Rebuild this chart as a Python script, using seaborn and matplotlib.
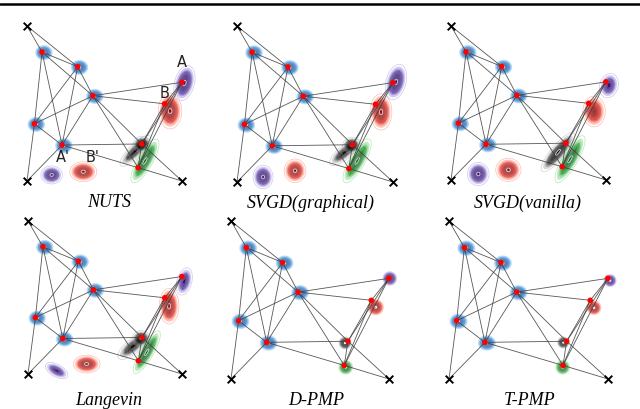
import numpy as np
import pandas as pd
import matplotlib
matplotlib.use("Agg")
import matplotlib.pyplot as plt
import seaborn as sns
from matplotlib.colors import LinearSegmentedColormap, to_rgb

# anchors (x markers) and sensor nodes, unit square coordinates
anchor_x = [0.0, 0.0, 1.0]
anchor_y = [1.0, 0.0, 0.0]
node_x = [0.097, 0.327, 0.425, 0.048, 0.226, 0.999, 0.888, 0.740, 0.717]
node_y = [0.832, 0.737, 0.550, 0.369, 0.232, 0.637, 0.498, 0.239, 0.086]
# points: a0 a1 a2, then n1..n9 as 3..11
edges = [(0, 3), (0, 4), (3, 4), (3, 5), (3, 6), (3, 7), (4, 5), (4, 6), (4, 7),
         (5, 6), (5, 7), (5, 8), (5, 9), (5, 10), (5, 11), (6, 7), (6, 1), (7, 1),
         (7, 10), (7, 11), (8, 9), (8, 10), (8, 11), (9, 10), (9, 11), (10, 11),
         (10, 2), (11, 2)]

titles = ["NUTS", "SVGD(graphical)", "SVGD(vanilla)", "Langevin", "D-PMP", "T-PMP"]

# posterior blobs: x, y, sx, sy, angle, peak, colour
nuts_blobs = [
    (1.016, 0.632, 0.022, 0.040, -15, 1.0, "purple"),
    (0.923, 0.452, 0.026, 0.040, 0, 1.0, "red"),
    (0.700, 0.195, 0.050, 0.016, 45, 0.55, "black"),
    (0.742, 0.236, 0.020, 0.018, 0, 1.0, "black"),
    (0.761, 0.129, 0.055, 0.017, 60, 1.0, "green"),
    (0.159, 0.039, 0.024, 0.020, 0, 1.0, "purple"),
    (0.363, 0.060, 0.030, 0.022, 0, 1.0, "red"),
]
svgd_graph_blobs = [
    (1.019, 0.641, 0.022, 0.040, -15, 1.0, "purple"),
    (0.923, 0.449, 0.024, 0.040, 0, 1.0, "red"),
    (0.690, 0.190, 0.045, 0.016, 40, 0.55, "black"),
    (0.735, 0.235, 0.020, 0.018, 0, 1.0, "black"),
    (0.770, 0.135, 0.055, 0.017, 60, 1.0, "green"),
    (0.167, 0.032, 0.022, 0.026, 0, 1.0, "purple"),
    (0.372, 0.072, 0.024, 0.026, 0, 1.0, "red"),
]
svgd_vanilla_blobs = [
    (1.019, 0.613, 0.022, 0.030, -15, 0.55, "purple"),
    (0.923, 0.445, 0.026, 0.036, 0, 0.7, "red"),
    (0.690, 0.180, 0.055, 0.016, 50, 1.0, "black"),
    (0.768, 0.135, 0.060, 0.017, 60, 1.0, "green"),
    (0.176, 0.039, 0.024, 0.026, 0, 1.0, "purple"),
    (0.370, 0.066, 0.028, 0.026, 0, 1.0, "red"),
]
langevin_blobs = [
    (1.015, 0.605, 0.018, 0.034, -15, 0.55, "purple"),
    (0.916, 0.443, 0.022, 0.040, 0, 1.0, "red"),
    (0.680, 0.180, 0.045, 0.018, 40, 0.5, "black"),
    (0.735, 0.232, 0.020, 0.018, 0, 1.0, "black"),
    (0.771, 0.142, 0.055, 0.015, 60, 1.0, "green"),
    (0.186, 0.022, 0.030, 0.015, -30, 0.55, "purple"),
    (0.381, 0.065, 0.030, 0.020, 0, 1.0, "red"),
]
dpmp_blobs = [
    (1.005, 0.636, 0.018, 0.018, 0, 1.0, "purple"),
    (0.916, 0.454, 0.020, 0.020, 0, 1.0, "red"),
    (0.722, 0.228, 0.016, 0.016, 0, 1.0, "black"),
    (0.726, 0.074, 0.018, 0.018, 0, 1.0, "green"),
]
tpmp_blobs = [
    (1.013, 0.623, 0.016, 0.016, 0, 1.0, "purple"),
    (0.912, 0.451, 0.018, 0.018, 0, 1.0, "red"),
    (0.719, 0.231, 0.015, 0.015, 0, 1.0, "black"),
    (0.715, 0.074, 0.018, 0.018, 0, 1.0, "green"),
]
panel_blobs = [nuts_blobs, svgd_graph_blobs, svgd_vanilla_blobs,
               langevin_blobs, dpmp_blobs, tpmp_blobs]

blob_colors = {
    "blue": ("#50b0f0", "#1a70c8", "#0a4a98"),
    "purple": ("#9a90e0", "#4a28a0", "#260560"),
    "red": ("#ff7a60", "#e81808", "#900000"),
    "black": ("#a8a8a8", "#303030", "#000000"),
    "green": ("#70d070", "#18a028", "#005a10"),
}

# anchor pixel positions of every panel: left x, right x, top y, bottom y
panel_px = [(27, 182, 27, 182), (237, 393, 27, 183), (451, 606, 27, 181),
            (28, 182, 222, 375), (231, 389, 222, 380), (449, 608, 222, 380)]
title_px = [(109, 203), (311, 203), (528, 203), (109, 401), (316, 401), (530, 401)]

W, H = 640, 410
M = 0.12
LEVELS = np.linspace(0.04, 1.01, 22)

sns.set_theme(style="white")
fig = plt.figure(figsize=(W / 100, H / 100), dpi=100)


def draw_blob(ax, x, y, sx, sy, ang, peak, color, soft):
    light, mid, dark = blob_colors[color]
    s = max(sx, sy)
    gx = np.linspace(x - 4 * s, x + 4 * s, 120)
    gy = np.linspace(y - 4 * s, y + 4 * s, 120)
    X, Y = np.meshgrid(gx, gy)
    t = np.deg2rad(ang)
    u = (X - x) * np.cos(t) + (Y - y) * np.sin(t)
    v = -(X - x) * np.sin(t) + (Y - y) * np.cos(t)
    Z = peak * np.exp(-0.5 * (u ** 2 / sx ** 2 + v ** 2 / sy ** 2))
    lr, mr, dr = to_rgb(light), to_rgb(mid), to_rgb(dark)
    cmap = LinearSegmentedColormap.from_list(
        "b", [(0.0, (*lr, 0.3)), (0.15, (*mr, 0.9)),
              (0.5, (*dr, 1.0)), (1.0, (*dr, 1.0))])
    ax.contourf(X, Y, Z, levels=LEVELS, cmap=cmap, vmin=0.04, vmax=1.0,
                antialiased=True, zorder=2)
    if soft:
        ax.contour(X, Y, Z, levels=[0.015], colors=[light], alpha=0.5,
                   linewidths=0.5, zorder=2)
        ax.contour(X, Y, Z, levels=[0.9], colors="white", alpha=0.8,
                   linewidths=0.5, zorder=2)
    else:
        ax.contour(X, Y, Z, levels=[0.96], colors="white",
                   linewidths=0.7, zorder=2)


pts = pd.DataFrame({"x": anchor_x + node_x, "y": anchor_y + node_y})
nodes = pd.DataFrame({"x": node_x, "y": node_y})
anchors = pd.DataFrame({"x": anchor_x, "y": anchor_y})

for i in range(6):
    x0, x1, yt, yb = panel_px[i]
    sxp, syp = x1 - x0, yb - yt
    ax = fig.add_axes([(x0 - M * sxp) / W, (H - yb - M * syp) / H,
                       (1 + 2 * M) * sxp / W, (1 + 2 * M) * syp / H])
    ax.set_xlim(-M, 1 + M)
    ax.set_ylim(-M, 1 + M)
    ax.axis("off")
    soft = i < 4
    for bx, by in zip(node_x[:5], node_y[:5]):
        draw_blob(ax, bx + 0.012, by - 0.004, 0.022, 0.019, 0, 1.0, "blue", False)
    for b in panel_blobs[i]:
        draw_blob(ax, *b, soft)
    for a, b in edges:
        ax.plot([pts.x[a], pts.x[b]], [pts.y[a], pts.y[b]],
                color="#3a3a3a", lw=0.6, alpha=0.85, zorder=3)
    sns.scatterplot(data=nodes, x="x", y="y", color="#ff0000", s=16,
                    edgecolor="none", ax=ax, zorder=4)
    sns.scatterplot(data=anchors, x="x", y="y", color="black", marker="x",
                    s=30, linewidth=1.4, ax=ax, zorder=4)
    if i == 0:
        for lab, lx, ly in [("A", 1.0, 0.774), ("B", 0.89, 0.574),
                            ("A'", 0.23, 0.155), ("B'", 0.426, 0.161)]:
            ax.text(lx, ly, lab, ha="center", va="center", fontsize=10.5,
                    family="DejaVu Sans", color="#222222", zorder=5)
    tx, ty = title_px[i]
    fig.text(tx / W, 1 - ty / H, titles[i], ha="center", va="center",
             family="Liberation Serif", style="italic", fontsize=13,
             color="black")

fig.add_artist(plt.Line2D([0, 1], [1 - 5 / H, 1 - 5 / H], color="black",
                          lw=1.8, transform=fig.transFigure))

fig.savefig("out.png", dpi=100)
